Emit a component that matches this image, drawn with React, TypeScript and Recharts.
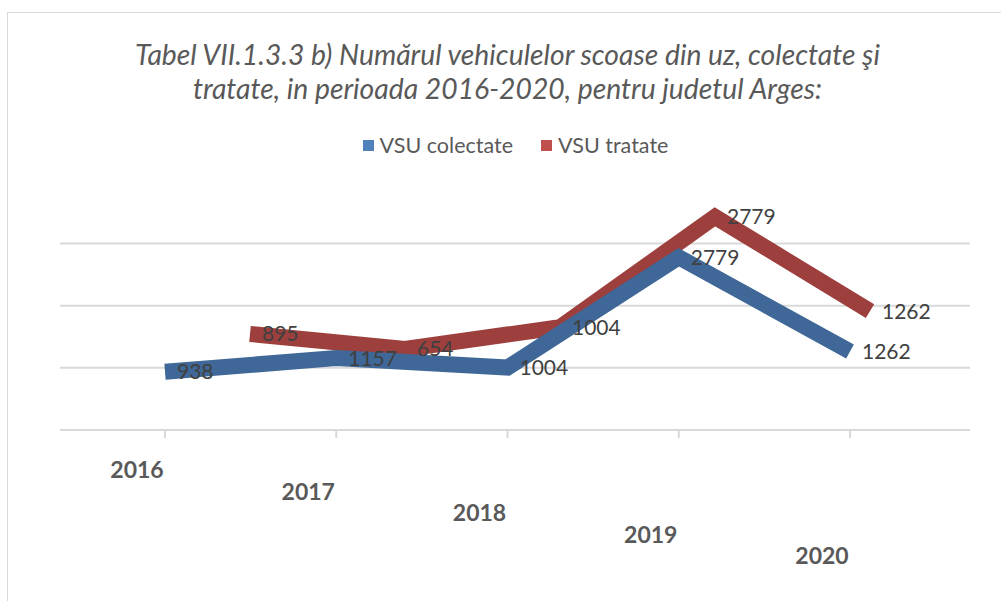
import React from "react";
import { LineChart, Line, XAxis, YAxis, CartesianGrid, LabelList } from "recharts";

const years = ["2016", "2017", "2018", "2019", "2020"];
const colectate = [938, 1157, 1004, 2779, 1262];
const tratate = [895, 654, 1004, 2779, 1262];
const gridTicks = [0, 1000, 2000, 3000];

const data = years.map((year, i) => ({
  year,
  colectate: colectate[i],
  tratate: tratate[i],
}));

const FONT = "Lato, 'Open Sans', sans-serif";
const TEXT = "#595959";

// staggered year labels, stepping down left to right like the original
const YearTick = (props: any) => {
  const { x, y, payload, index } = props;
  return (
    <text
      x={x - 28}
      y={y + 38 + index * 21.5}
      textAnchor="middle"
      fontFamily={FONT}
      fontWeight="bold"
      fontSize={23}
      fill={TEXT}
    >
      {payload.value}
    </text>
  );
};

export default function App() {
  return (
    <div
      style={{
        position: "absolute",
        left: 0,
        top: 0,
        width: 1001,
        height: 601,
        background: "#fff",
        overflow: "hidden",
        fontFamily: FONT,
      }}
    >
      <div
        style={{
          position: "absolute",
          left: 7,
          top: 12,
          width: 1010,
          height: 620,
          border: "1px solid #d9d9d9",
        }}
      />
      <div
        style={{
          position: "absolute",
          left: 0,
          top: 37,
          width: 1015,
          textAlign: "center",
          fontStyle: "italic",
          fontSize: 28.3,
          lineHeight: "34px",
          color: TEXT,
        }}
      >
        Tabel VII.1.3.3 b) Numărul vehiculelor scoase din uz, colectate şi
        <br />
        tratate, in perioada 2016-2020, pentru judetul Arges:
      </div>
      <div
        style={{
          position: "absolute",
          left: 0,
          top: 132,
          width: 1031,
          display: "flex",
          justifyContent: "center",
          gap: 28,
          fontSize: 21.5,
          color: TEXT,
        }}
      >
        <span style={{ display: "flex", alignItems: "center" }}>
          <span style={{ width: 11, height: 11, background: "#4F81BD", marginRight: 6 }} />
          VSU colectate
        </span>
        <span style={{ display: "flex", alignItems: "center" }}>
          <span style={{ width: 11, height: 11, background: "#C0504D", marginRight: 6 }} />
          VSU tratate
        </span>
      </div>
      <div style={{ position: "absolute", left: 0, top: 0 }}>
        <LineChart
          width={1001}
          height={601}
          data={data}
          margin={{ top: 200, right: 31, bottom: 0, left: 60 }}
        >
          <CartesianGrid
            xAxisId="front"
            yAxisId="front"
            vertical={false}
            horizontalValues={gridTicks}
            stroke="#d9d9d9"
            strokeWidth={2}
          />
          <XAxis
            xAxisId="front"
            dataKey="year"
            padding={{ left: 105, right: 120 }}
            axisLine={{ stroke: "#d9d9d9", strokeWidth: 2 }}
            tickLine={{ stroke: "#d9d9d9", strokeWidth: 2 }}
            tickSize={8}
            tick={<YearTick />}
            interval={0}
            height={171}
          />
          {/* hidden axes push the red series back/up to fake the 3D depth */}
          <XAxis
            xAxisId="back"
            dataKey="year"
            hide
            height={0}
            padding={{ left: 190, right: 100 }}
          />
          <YAxis
            yAxisId="front"
            hide
            domain={[0, 3700]}
            allowDataOverflow
            ticks={gridTicks}
            width={0}
          />
          <YAxis
            yAxisId="back"
            hide
            domain={[-650, 3050]}
            allowDataOverflow
            width={0}
          />
          <Line
            xAxisId="back"
            yAxisId="back"
            dataKey="tratate"
            stroke="#9C3F3D"
            strokeWidth={16}
            strokeLinejoin="miter"
            strokeLinecap="butt"
            dot={false}
            isAnimationActive={false}
          >
            <LabelList
              dataKey="tratate"
              position="right"
              offset={12}
              fontSize={21}
              fill="#404040"
              fontFamily={FONT}
            />
          </Line>
          <Line
            xAxisId="front"
            yAxisId="front"
            dataKey="colectate"
            stroke="#3F6797"
            strokeWidth={16}
            strokeLinejoin="miter"
            strokeLinecap="butt"
            dot={false}
            isAnimationActive={false}
          >
            <LabelList
              dataKey="colectate"
              position="right"
              offset={12}
              fontSize={21}
              fill="#404040"
              fontFamily={FONT}
            />
          </Line>
        </LineChart>
      </div>
    </div>
  );
}
